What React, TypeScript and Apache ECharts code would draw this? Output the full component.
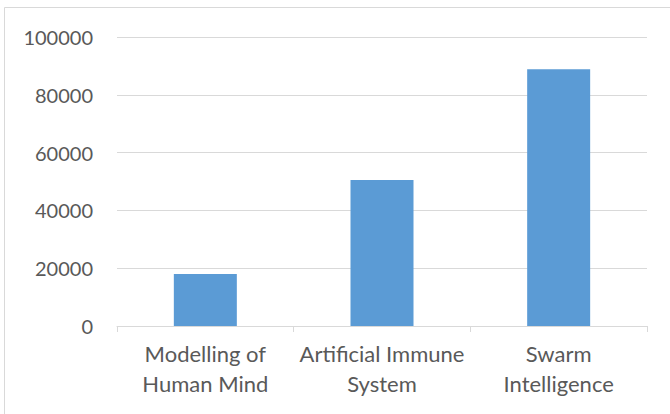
import React, { useEffect, useRef } from "react";
import * as echarts from "echarts";

const categories = ["Modelling of\nHuman Mind", "Artificial Immune\nSystem", "Swarm\nIntelligence"];
const values = [18000, 50500, 88800];
const yTicks = { min: 0, max: 100000, interval: 20000 };

const FONT = "Lato";
const TEXT = "#595959";
const LINE = "#d9d9d9";

export default function App() {
  const ref = useRef<HTMLDivElement>(null);
  useEffect(() => {
    if (!ref.current) return;
    const chart = echarts.init(ref.current, null, { renderer: "svg" });
    chart.setOption({
      animation: false,
      backgroundColor: "#ffffff",
      graphic: [
        {
          type: "rect",
          shape: { x: 4.5, y: 7.5, width: 700, height: 430 },
          style: { fill: "none", stroke: LINE, lineWidth: 1 },
          silent: true,
        },
      ],
      grid: { left: 117, right: 23, top: 37, bottom: 88, containLabel: false },
      xAxis: {
        type: "category",
        data: categories,
        axisLine: { show: true, lineStyle: { color: LINE, width: 1 } },
        axisTick: { show: true, length: 6, lineStyle: { color: LINE } },
        axisLabel: {
          color: TEXT,
          fontFamily: FONT,
          fontSize: 22,
          lineHeight: 30,
          margin: 12,
          interval: 0,
        },
      },
      yAxis: {
        type: "value",
        min: yTicks.min,
        max: yTicks.max,
        interval: yTicks.interval,
        axisLine: { show: false },
        axisTick: { show: false },
        splitLine: { lineStyle: { color: LINE, width: 1 } },
        axisLabel: {
          color: TEXT,
          fontFamily: FONT,
          fontSize: 20,
          margin: 24,
          formatter: (v: number) => String(v),
        },
      },
      series: [
        {
          type: "bar",
          data: values,
          barWidth: 63,
          itemStyle: { color: "#5b9bd5" },
        },
      ],
    });
    return () => chart.dispose();
  }, []);
  return <div ref={ref} style={{ width: 670, height: 414, position: "absolute", left: 0, top: 0 }} />;
}
